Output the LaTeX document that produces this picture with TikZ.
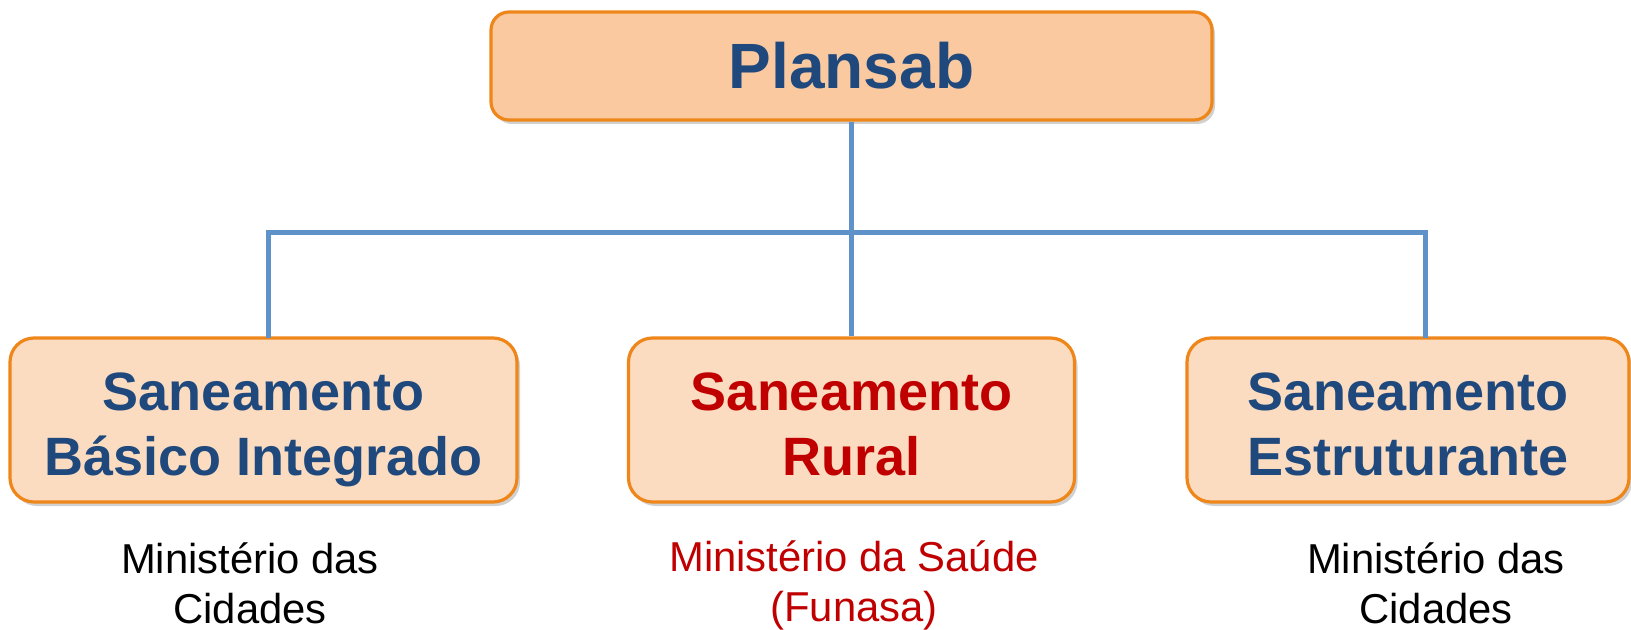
\documentclass[tikz,border=0pt]{standalone}
\usepackage{fontspec}
\setmainfont{Liberation Sans}
\usetikzlibrary{shadows}
\definecolor{plantop}{RGB}{250,201,160}
\definecolor{planbox}{RGB}{252,220,193}
\definecolor{planedge}{RGB}{238,134,26}
\definecolor{planline}{RGB}{94,146,201}
\definecolor{planblue}{RGB}{31,73,125}
\definecolor{planred}{RGB}{192,0,0}
\tikzset{
  boxshadow/.style={drop shadow={shadow xshift=1.5pt, shadow yshift=-2pt, opacity=.3, fill=black!60}},
  topbox/.style={draw=planedge, fill=plantop, line width=1.6pt, rounded corners=9pt,
    minimum width=360.5pt, minimum height=54pt, boxshadow,
    text=planblue, font=\fontsize{32}{38}\selectfont\bfseries},
  subbox/.style={draw=planedge, fill=planbox, line width=1.6pt, rounded corners=12pt,
    minimum height=82pt, align=center, boxshadow, text height=55pt, text depth=0pt,
    text=planblue, font=\fontsize{27}{32.5}\selectfont\bfseries},
  ministry/.style={align=center, font=\fontsize{20.9}{25}\selectfont},
  link/.style={draw=planline, line width=2.5pt,
    preaction={draw=black, opacity=.18, transform canvas={shift={(1pt,-1.5pt)}}}}
}
\begin{document}
\begin{tikzpicture}[x=0.5pt,y=-0.5pt]
  \useasboundingbox (0,0) rectangle (1631,630);
  % upper level
  \node[topbox] (plan) at (851.5,66) {Plansab};
  % three programmes
  \node[subbox, minimum width=253.5pt] (basico) at (263.5,420) {Saneamento\\Básico Integrado};
  \node[subbox, minimum width=223pt, text=planred] (rural) at (851.5,420) {Saneamento\\Rural};
  \node[subbox, minimum width=221pt] (estrut) at (1408,420) {Saneamento\\Estruturante};
  % who runs them
  \node[ministry] (minL) at (250,583) {Ministério das\\Cidades};
  \node[ministry, text=planred] (minM) at (854,585) {Ministério da Saúde\\(Funasa)};
  \node[ministry] (minR) at (1436,583) {Ministério das\\Cidades};
  \coordinate (hub) at (851.5,233);
  \coordinate (footL) at (268,338);
  \coordinate (footR) at (1425,338);
  \begin{scope}[link]
    \draw (plan.south) -- (rural.north);
    \draw (footL) |- (hub) -| (footR);
  \end{scope}
\end{tikzpicture}
\end{document}
